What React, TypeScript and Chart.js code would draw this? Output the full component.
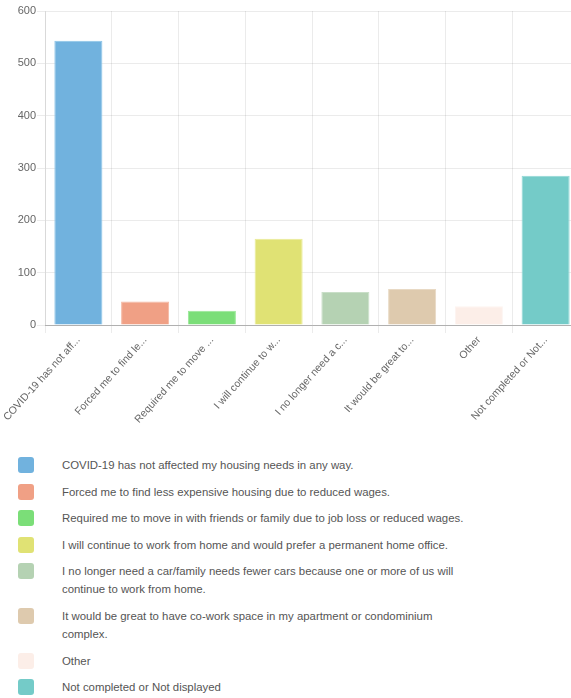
import React, { useEffect, useRef } from "react";
import { Chart, registerables } from "chart.js";

Chart.register(...registerables);

const shortLabels = [
  "COVID-19 has not aff...",
  "Forced me to find le...",
  "Required me to move ...",
  "I will continue to w...",
  "I no longer need a c...",
  "It would be great to...",
  "Other",
  "Not completed or Not...",
];

const fullLabels = [
  "COVID-19 has not affected my housing needs in any way.",
  "Forced me to find less expensive housing due to reduced wages.",
  "Required me to move in with friends or family due to job loss or reduced wages.",
  "I will continue to work from home and would prefer a permanent home office.",
  "I no longer need a car/family needs fewer cars because one or more of us will continue to work from home.",
  "It would be great to have co-work space in my apartment or condominium complex.",
  "Other",
  "Not completed or Not displayed",
];

const counts = [543, 45, 27, 165, 63, 69, 36, 285];

const colors = [
  "#71B2DE",
  "#F0A085",
  "#7BDE78",
  "#E0E274",
  "#B5D2B3",
  "#DECAAE",
  "#FCEEE8",
  "#74CBC8",
];

const borderColors = [
  "#8CC4E8",
  "#F5B8A2",
  "#98E896",
  "#EAEC95",
  "#C9DFC8",
  "#E8D9C4",
  "#FDF4F0",
  "#90D7D5",
];

const yTicks = [0, 100, 200, 300, 400, 500, 600];

const FONT = "'Liberation Sans', Arial, Helvetica, sans-serif";

export default function App() {
  const ref = useRef<HTMLCanvasElement | null>(null);

  useEffect(() => {
    document.body.style.margin = "0";
    document.body.style.overflow = "hidden";
    const canvas = ref.current;
    if (!canvas) return;
    const chart = new Chart(canvas, {
      type: "bar",
      data: {
        labels: shortLabels,
        datasets: [
          {
            data: counts,
            backgroundColor: colors,
            borderColor: borderColors,
            borderWidth: 1,
          },
        ],
      },
      options: {
        responsive: false,
        animation: false,
        devicePixelRatio: 1,
        layout: { padding: { top: 11, left: 0, right: 1, bottom: 0 } },
        plugins: {
          legend: { display: false },
          tooltip: { enabled: false },
        },
        scales: {
          x: {
            grid: {
              color: "rgba(0,0,0,0.08)",
              tickLength: 8,
              offset: true,
            },
            border: { color: "rgba(0,0,0,0.25)" },
            ticks: {
              autoSkip: false,
              minRotation: 48,
              maxRotation: 48,
              padding: 1,
              color: "#666",
              font: { family: FONT, size: 10.5 },
            },
            afterFit: (scale: any) => {
              scale.height = 120;
              scale.paddingLeft = 0;
              scale.paddingRight = 0;
            },
          },
          y: {
            min: 0,
            max: 600,
            afterBuildTicks: (scale: any) => {
              scale.ticks = yTicks.map((v) => ({ value: v }));
            },
            grid: { color: "rgba(0,0,0,0.08)", tickLength: 8 },
            border: { color: "rgba(0,0,0,0.08)" },
            ticks: {
              padding: 1,
              color: "#666",
              font: { family: FONT, size: 11 },
            },
            afterFit: (scale: any) => {
              scale.width = 45;
              scale.paddingTop = 0;
              scale.paddingBottom = 0;
            },
          },
        },
      },
    });
    return () => chart.destroy();
  }, []);

  return (
    <div style={{ width: 571, overflow: "hidden", position: "relative", fontFamily: FONT }}>
      <canvas ref={ref} width={580} height={445} style={{ display: "block" }} />
      <div style={{ paddingTop: 11 }}>
        {fullLabels.map((label, i) => (
          <div
            key={i}
            style={{ display: "flex", alignItems: "flex-start", marginBottom: 8.6 }}
          >
            <div
              style={{
                marginLeft: 18,
                marginTop: 1,
                width: 16,
                height: 16,
                borderRadius: 3,
                background: colors[i],
                flex: "0 0 auto",
              }}
            />
            <div
              style={{
                marginLeft: 28,
                width: 412,
                fontSize: 11.4,
                lineHeight: "18px",
                color: "#555",
              }}
            >
              {label}
            </div>
          </div>
        ))}
      </div>
    </div>
  );
}
